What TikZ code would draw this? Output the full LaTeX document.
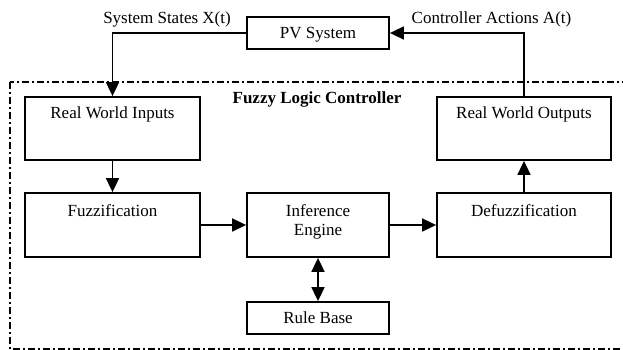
\documentclass[tikz,border=0pt]{standalone}
\usepackage{fontspec}
\setmainfont{Liberation Serif}
\usetikzlibrary{arrows.meta}
\tikzset{
  blk/.style={draw=black, line width=1.8pt, minimum width=#1, inner sep=0pt, fill=white},
  conn/.style={line width=1.7pt, -{Triangle[length=14pt,width=13pt]}},
  biconn/.style={line width=1.7pt, {Triangle[length=14pt,width=13pt]}-{Triangle[length=14pt,width=13pt]}},
  lbl/.style={anchor=base, inner sep=0pt, font=\fontsize{17}{19}\selectfont},
  border/.style={line width=1.7pt, dash pattern=on 7pt off 3pt on 2pt off 3pt}
}
\begin{document}
\begin{tikzpicture}[x=1pt,y=-1pt]
\useasboundingbox (0,0) rectangle (623,350);
\clip (0,0) rectangle (623,350);
% controller boundary
\draw[border] (10,82) rectangle (660,349);
% boxes
\node[blk=142pt, minimum height=32pt] (pv) at (318,33) {};
\node[blk=175pt, minimum height=63pt] (rwi) at (112.5,128.5) {};
\node[blk=175pt, minimum height=64pt] (fuz) at (112.5,225) {};
\node[blk=142pt, minimum height=64pt] (inf) at (318,225) {};
\node[blk=174pt, minimum height=64pt] (def) at (524,225) {};
\node[blk=174pt, minimum height=63pt] (rwo) at (524,128.5) {};
\node[blk=142pt, minimum height=32pt] (rb) at (318,318) {};
% box texts
\node[lbl] (pvt) at (318,39) {PV System};
\node[lbl] (rwit) at (112.5,118) {Real World Inputs};
\node[lbl] (fuzt) at (112.5,216) {Fuzzification};
\node[lbl] (inft1) at (318,216) {Inference};
\node[lbl] (inft2) at (318,235) {Engine};
\node[lbl] (deft) at (524,216) {Defuzzification};
\node[lbl] (rwot) at (524,118) {Real World Outputs};
\node[lbl] (rbt) at (318,323) {Rule Base};
% other labels
\node[lbl] (xs) at (167,24) {System States X(t)};
\node[lbl] (ca) at (491.5,24) {Controller Actions A(t)};
\node[lbl, font=\fontsize{17}{19}\selectfont\bfseries] (flc) at (317,103) {Fuzzy Logic Controller};
% connectors
\draw[conn] (pv.west) -| (rwi.north);
\draw[conn] (rwi.south) -- (fuz.north);
\draw[conn] (fuz.east) -- (inf.west);
\draw[conn] (inf.east) -- (def.west);
\draw[conn] (def.north) -- (rwo.south);
\draw[conn] (rwo.north) |- (pv.east);
\draw[biconn] (inf.south) -- (rb.north);
\end{tikzpicture}
\end{document}
